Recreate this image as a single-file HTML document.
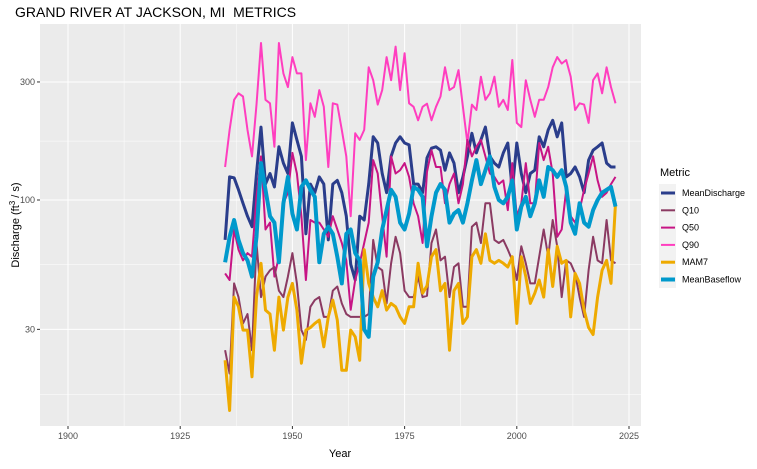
<!DOCTYPE html>
<html><head><meta charset="utf-8"><style>
body{margin:0;background:#fff;font-family:"Liberation Sans",Arial,sans-serif}
svg text{font-family:"Liberation Sans",Arial,sans-serif}
</style></head><body>
<svg id="chart" width="757" height="464" xmlns="http://www.w3.org/2000/svg">
<text x="15" y="17" font-size="14" fill="#000" style="white-space:pre" xml:space="preserve">GRAND RIVER AT JACKSON, MI  METRICS</text>
<rect x="40" y="24" width="601" height="402" fill="#ebebeb"/>
<g id="grid"></g>
<g id="series"></g>
<g id="axes"></g>
<text x="340" y="457" font-size="11" text-anchor="middle">Year</text>
<text transform="translate(19,225) rotate(-90)" font-size="11" text-anchor="middle">Discharge (ft<tspan font-size="8" dy="-4">3</tspan><tspan dy="4"> / s)</tspan></text>
<g id="legend">
<text x="660" y="176" font-size="11">Metric</text>
<rect x="659" y="184" width="17" height="104" fill="#f2f2f2"/>
</g>
</svg>
<script>
const years = [];
for (let y = 1935; y <= 2022; y++) years.push(y);
const meanDischarge = [69,124,123,110,97,86,78,128,197,116,128,113,164,141,128,205,175,150,73,116,107,124,116,69,116,120,107,86,55,47.5,86,83,116,180,170,128,107,150,170,180,170,167,116,116,107,148,
162,164,159,132,155,141,107,124,150,186,155,175,197,150,141,136,155,170,110,170,128,107,128,132,180,164,192,210,180,205,124,128,136,124,107,145,159,164,170,141,136,136];
const q10 = [24.7,19.9,46,40.5,31.7,34.6,24.7,67,40.5,49,52,53.6,43,40.5,49,61,46,29.8,27.2,37,39.4,40.5,33.7,33.7,43,44.7,38.2,34.6,33.7,33.7,33.7,33.7,34.6,69,53.6,52,38.2,55.5,71,61,43,40.5,40.5,49,40.5,41,
67,76,57,59,40.5,53.6,55.5,37,37,78,81,67,97,97,69,67,69,63,57,47.5,65,55.5,46,46,59,76,59,83,65,40.5,57,55.5,50.5,40.5,33.7,52,71,57,55.5,83,57,55.5];
const q50 = [50.5,47.5,76,63,57,61,59,103,150,76,81,49,59,97,107,155,128,86,47.5,83,81,81,76,71,86,76,67,57,36,47.5,55.5,67,81,145,128,86,59,150,128,132,141,124,97,86,67,130,
159,136,136,97,116,128,97,116,175,150,164,175,150,128,124,116,120,91,141,86,97,141,97,97,170,145,164,128,71,76,110,86,81,91,110,128,150,120,103,107,116,124];
const q90 = [136,192,254,270,262,192,150,243,431,254,246,164,431,325,286,378,325,325,145,246,217,278,238,136,246,243,192,150,86,186,175,192,344,305,243,278,378,305,417,278,392,246,238,210,238,245,
210,238,262,344,278,286,335,238,170,243,231,315,254,270,315,238,254,231,368,205,197,305,254,217,254,254,286,344,378,356,368,315,231,246,243,205,305,325,270,344,286,246];
const mam7 = [22.5,14.1,40.5,37,29.8,29.8,19.3,40.5,55.5,35.9,34.6,24.7,40.5,29.8,40.5,46,35.9,21.9,29.8,30.5,31.7,32.7,25.5,33.7,39.4,32.7,20.5,20.5,29.8,28,22.5,63,46,40.5,37,43,35.9,38.2,37,33.7,31.7,37,37,55.5,42,45,
59,63,43,46,24.7,43,46,31.7,33.7,59,63,55.5,73,57,55.5,57,55.5,53.6,59,31.7,59,49,38.2,42,47.5,40.5,63,44.7,65,55.5,57,33.7,50.5,46,35.9,30.5,28.6,40.5,52,57,46,97];
const meanBaseflow = [56,71,83,69,61,57,49,71,141,110,86,81,56,97,124,88,76,113,120,110,103,56,73,78,73,59,46,73,76,61,57,30,28,49,56,76,91,110,103,81,76,88,113,110,103,65,
86,107,116,110,81,88,91,81,97,120,145,116,132,150,113,100,97,103,120,76,94,103,86,97,120,103,136,132,124,132,113,81,73,97,81,78,91,100,107,110,113,94];
const xTicks = [1900,1925,1950,1975,2000,2025];
const yTicks = [30,100,300];
const yMinor = [16.4,54.8,173];
const seriesNames = ["MeanDischarge","Q10","Q50","Q90","MAM7","MeanBaseflow"];

const NS = "http://www.w3.org/2000/svg";
const PL=40, PR=641, PT=24, PB=426;
function xs(yr){ return 68 + (yr-1900)*561/125; }
function ys(v){ return 200 + Math.log10(100/v)*247.4; }
function mk(tag, attrs, parent){ const e=document.createElementNS(NS,tag); for(const k in attrs) e.setAttribute(k,attrs[k]); parent.appendChild(e); return e; }

const grid=document.getElementById('grid'), axes=document.getElementById('axes'), ser=document.getElementById('series');
for(let i=0;i<xTicks.length-1;i++){
  const m=mk('line',{x1:xs((xTicks[i]+xTicks[i+1])/2),x2:xs((xTicks[i]+xTicks[i+1])/2),y1:PT,y2:PB,stroke:'#fff','stroke-width':0.5},grid);
  
  
}
yMinor.forEach(v=>{
  const m=mk('line',{x1:PL,x2:PR,y1:ys(v),y2:ys(v),stroke:'#fff','stroke-width':0.5},grid);
  
  
});
xTicks.forEach(t=>{
  const g=mk('line',{x1:xs(t),x2:xs(t),y1:PT,y2:PB,stroke:'#fff','stroke-width':1},grid);
  
  
  mk('line',{x1:xs(t),x2:xs(t),y1:PB,y2:PB+3,stroke:'#333'},axes);
  const tx=mk('text',{x:xs(t),y:PB+13,'font-size':9,'text-anchor':'middle',fill:'#4d4d4d'},axes);
  tx.textContent=t;
  
  
});
yTicks.forEach(t=>{
  const g=mk('line',{x1:PL,x2:PR,y1:ys(t),y2:ys(t),stroke:'#fff','stroke-width':1},grid);
  
  
  mk('line',{x1:PL-3,x2:PL,y1:ys(t),y2:ys(t),stroke:'#333'},axes);
  const tx=mk('text',{x:PL-5,y:ys(t)+3,'font-size':9,'text-anchor':'end',fill:'#4d4d4d'},axes);
  tx.textContent=t;
  
  
});

const data=[meanDischarge,q10,q50,q90,mam7,meanBaseflow];
const colors=['#2a3d8b','#8b3a62','#c71585','#ff3ebf','#eeaa00','#0099cc'];
const widths=[3,2,2,2,3,4];
const order=[3,0,2,1,4,5];
order.forEach(i=>{
  const d=data[i].map((v,j)=>(j?'L':'M')+xs(years[j]).toFixed(1)+','+ys(v).toFixed(1)).join('');
  const p=mk('path',{d:d,fill:'none',stroke:colors[i],'stroke-width':widths[i],'stroke-linejoin':'round'},ser);
  
  
});
const leg=document.getElementById('legend');
seriesNames.forEach((n,i)=>{
  const y=193+i*17.3;
  const l=mk('line',{x1:661,x2:675,y1:y,y2:y,stroke:colors[i],'stroke-width':widths[i]},leg);
  
  
  const t=mk('text',{x:682,y:y+3,'font-size':9,fill:'#000'},leg);
  t.textContent=n;
  
  
});
</script>
</body></html>
